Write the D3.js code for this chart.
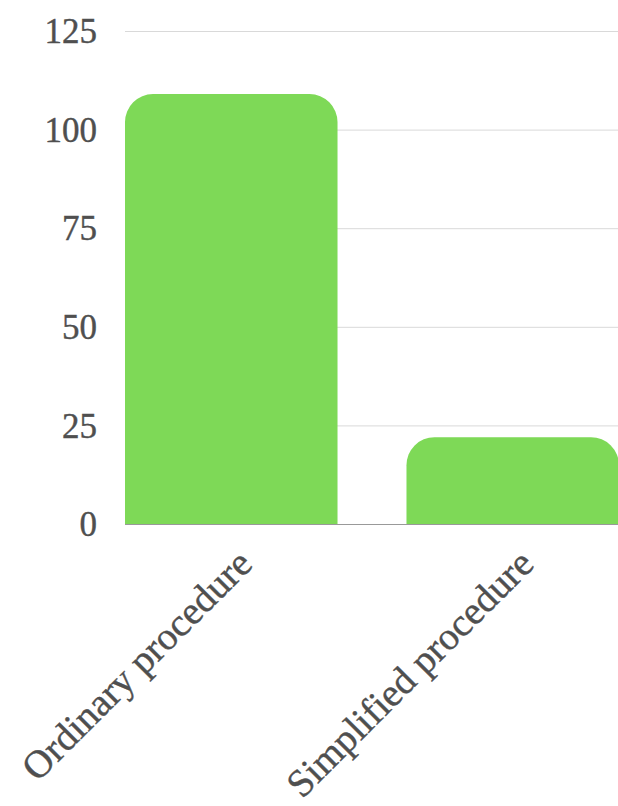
<!DOCTYPE html>
<html><head><meta charset="utf-8">
<script src="https://cdn.jsdelivr.net/npm/d3@7/dist/d3.min.js"></script>
<style>body{margin:0;background:#fff}svg{display:block}</style>
</head><body>
<svg id="chart" width="618" height="806"></svg>
<script>
const categories = ["Ordinary procedure", "Simplified procedure"];
const values = [109, 22];
const tickValues = [0, 25, 50, 75, 100, 125];

const W = 618, H = 806;
const m = {left: 125, right: 0, top: 31, bottom: 282};
const svg = d3.select("#chart");
const x = d3.scaleBand().domain(categories).range([m.left, W - m.right + 1]).paddingInner(0.245).paddingOuter(0);
const y = d3.scaleLinear().domain([0, 125]).range([H - m.bottom, m.top]);
const font = "'Liberation Serif', 'Times New Roman', serif";

// gridlines
svg.append("g").selectAll("line").data(tickValues.filter(d => d > 0)).join("line")
  .attr("x1", m.left).attr("x2", W).attr("y1", d => y(d) + 0.5).attr("y2", d => y(d) + 0.5)
  .attr("stroke", "#d9d9d9").attr("stroke-width", 1);

// baseline
svg.append("line").attr("x1", m.left).attr("x2", W).attr("y1", y(0) + 0.5).attr("y2", y(0) + 0.5)
  .attr("stroke", "#999").attr("stroke-width", 1);

// bars with rounded top corners
const r = 28;
function barPath(x0, w, yTop, yBot) {
  const rr = Math.min(r, w / 2, yBot - yTop);
  return `M${x0},${yBot}V${yTop + rr}A${rr},${rr} 0 0 1 ${x0 + rr},${yTop}H${x0 + w - rr}A${rr},${rr} 0 0 1 ${x0 + w},${yTop + rr}V${yBot}Z`;
}
svg.append("g").selectAll("path").data(categories).join("path")
  .attr("d", (c, i) => barPath(x(c), x.bandwidth(), y(values[i]), y(0)))
  .attr("fill", "#7ed957");

// y tick labels
svg.append("g").selectAll("text").data(tickValues).join("text")
  .attr("x", 97).attr("y", d => y(d)).attr("dy", "0.35em")
  .attr("text-anchor", "end").attr("font-family", font).attr("font-size", 35)
  .attr("fill", "#4f4f4f").attr("stroke", "#4f4f4f").attr("stroke-width", 0.4).text(d => d);

// x labels rotated
svg.append("g").selectAll("text").data(categories).join("text")
  .attr("transform", c => `translate(${x(c) + x.bandwidth() / 2 + 23},${y(0) + 42}) rotate(-45)`)
  .attr("text-anchor", "end").attr("font-family", font).attr("font-size", 39)
  .attr("fill", "#4f4f4f").attr("stroke", "#4f4f4f").attr("stroke-width", 0.4).text(c => c);
</script>
</body></html>
